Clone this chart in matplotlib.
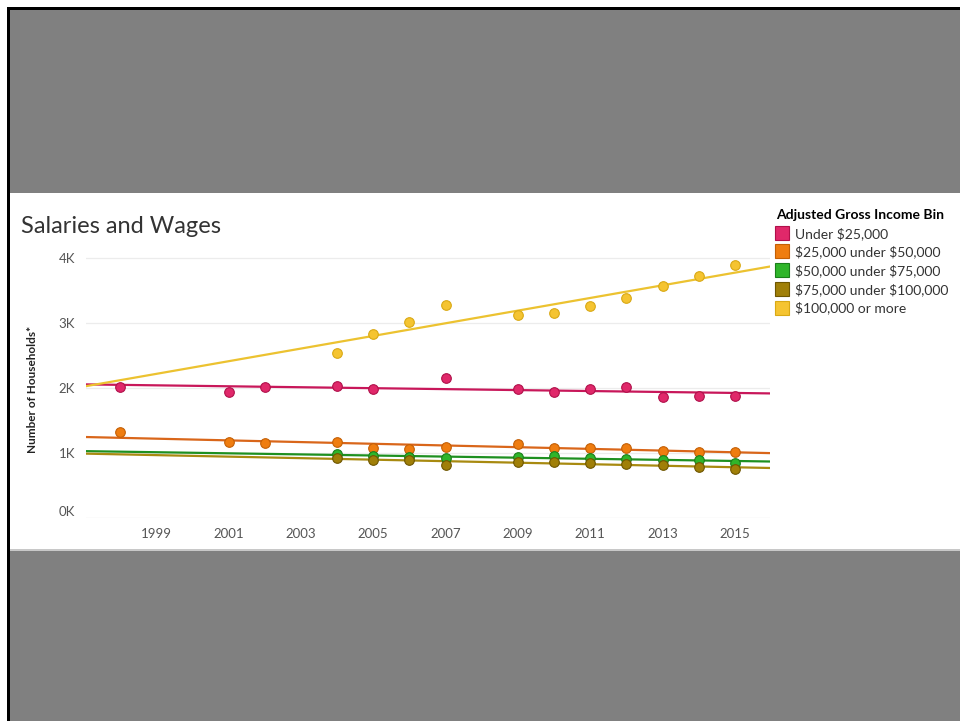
import matplotlib.pyplot as plt
import matplotlib.patches as mpatches
from matplotlib.lines import Line2D
import numpy as np

plt.rcParams['font.family'] = ['Lato', 'DejaVu Sans']
plt.rcParams['text.parse_math'] = False  # dollartekens letterlijk tonen

# jaren per reeks
years_a = [1998, 2001, 2002, 2004, 2005, 2007, 2009, 2010, 2011, 2012, 2013, 2014, 2015]
years_b = [1998, 2001, 2002, 2004, 2005, 2006, 2007, 2009, 2010, 2011, 2012, 2013, 2014, 2015]
years_c = [2004, 2005, 2006, 2007, 2009, 2010, 2011, 2012, 2013, 2014, 2015]

under_25k = [2020, 1940, 2020, 2030, 1980, 2150, 1980, 1940, 1980, 2020, 1860, 1880, 1880]
k25_50 = [1320, 1170, 1150, 1170, 1080, 1060, 1090, 1140, 1080, 1080, 1080, 1030, 1020, 1020]
k50_75 = [980, 950, 940, 920, 940, 950, 920, 910, 890, 890, 850]
k75_100 = [920, 890, 890, 820, 860, 860, 850, 830, 820, 780, 750]
k100_plus = [2540, 2830, 3010, 3280, 3120, 3150, 3260, 3380, 3570, 3720, 3890]

labels = ['Under $25,000', '$25,000 under $50,000', '$50,000 under $75,000',
          '$75,000 under $100,000', '$100,000 or more']
dot_colors = ['#e0286a', '#ef7d10', '#2fb52a', '#a07f08', '#f5c431']
edge_colors = ['#b0104a', '#c45f05', '#1a7f1a', '#6e5600', '#d9a915']
line_colors = ['#c8175a', '#d9661a', '#1e9020', '#a88a10', '#ecc230']

series = [(years_a, under_25k), (years_b, k25_50), (years_c, k50_75),
          (years_c, k75_100), (years_c, k100_plus)]

fig = plt.figure(figsize=(9.6, 7.21), dpi=100)
W, H = 960, 721

def box(x0, y0, x1, y1, color):
    fig.patches.append(mpatches.Rectangle((x0 / W, 1 - y1 / H), (x1 - x0) / W, (y1 - y0) / H,
                                          transform=fig.transFigure, facecolor=color,
                                          edgecolor='none', zorder=-10))

# grijze achtergrond met zwarte rand
box(7, 7, 960, 721, '#000000')
box(10, 10, 960, 721, '#808080')
box(10, 193, 960, 550, '#ffffff')
box(10, 549, 960, 551, '#c8c8c8')

ax = fig.add_axes([86 / W, 1 - 518 / H, (770 - 86) / W, (518 - 250) / H])
ax.set_facecolor('none')

xmin, xmax = 1997.06, 2015.97
xs = np.array([xmin, xmax])
order = [1, 2, 3, 0, 4]
for i in order:
    yrs, vals = series[i]
    k, b = np.polyfit(yrs, vals, 1)
    ax.plot(xs, k * xs + b, color=line_colors[i], lw=1.6, zorder=2)
for i in order:
    yrs, vals = series[i]
    ax.scatter(yrs, vals, s=48, color=dot_colors[i], edgecolors=edge_colors[i],
               linewidths=0.8, zorder=3)

ax.set_xlim(xmin, xmax)
ax.set_ylim(0, 4120)
ax.set_xticks(range(1999, 2016, 2))
ax.set_yticks([0, 1000, 2000, 3000, 4000])
ax.set_yticklabels(['0K', '1K', '2K', '3K', '4K'])
ax.get_yticklabels()[0].set_va('bottom')
ax.tick_params(length=0, colors='#555555', labelsize=9.5)
ax.tick_params(axis='y', pad=8)
ax.tick_params(axis='x', pad=7)
ax.grid(axis='y', color='#ececec', lw=0.9, zorder=0)
for s in ax.spines.values():
    s.set_visible(False)
ax.axhline(0, color='#f2f2f2', lw=0.8, zorder=0)

ax.set_ylabel('Number of Households*', fontsize=8.5, fontweight='bold', color='#222222')
ax.yaxis.set_label_coords(-0.07, 0.48)

fig.text(21 / W, 1 - 226 / H, 'Salaries and Wages', fontsize=17, color='#333333', va='center')

handles = [Line2D([], [], marker='s', ls='none', markersize=9.5, markerfacecolor=dot_colors[i],
                  markeredgecolor=edge_colors[i], markeredgewidth=0.8) for i in range(5)]
leg = fig.legend(handles, labels, loc='upper left', bbox_to_anchor=(776 / W, 1 - 209 / H),
                 frameon=False, fontsize=10, title='Adjusted Gross Income Bin',
                 title_fontproperties={'weight': 'bold', 'size': 10},
                 alignment='left', handlelength=0.8, handletextpad=0.6,
                 labelspacing=0.42, borderaxespad=0, borderpad=0)
for t in leg.get_texts():
    t.set_color('#333333')

plt.savefig('out.png', dpi=100)
